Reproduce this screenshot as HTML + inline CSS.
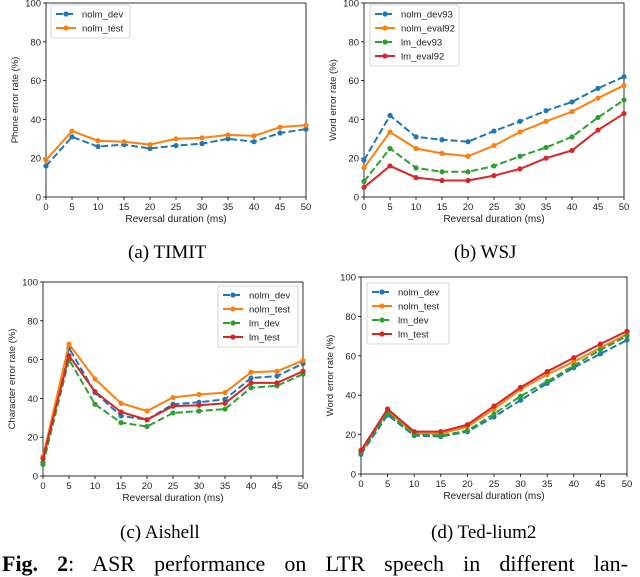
<!DOCTYPE html>
<html><head><meta charset="utf-8"><style>
body{margin:0;background:#fff;width:640px;height:572px;overflow:hidden;position:relative;font-family:"Liberation Sans",sans-serif}
svg{position:absolute;left:0;top:0}
.cap{position:absolute;font-family:"Liberation Serif",serif;font-size:19px;color:#000;white-space:nowrap}
.fig{position:absolute;left:2px;top:551px;width:626px;font-family:"Liberation Serif",serif;font-size:22px;color:#000;text-align:justify;text-align-last:justify;white-space:normal}
</style></head><body>
<svg id="chart" width="640" height="572"></svg>
<div class="cap" style="left:128px;top:242px">(a) TIMIT</div>
<div class="cap" style="left:454px;top:242px">(b) WSJ</div>
<div class="cap" style="left:120px;top:522px">(c) Aishell</div>
<div class="cap" style="left:431px;top:522px">(d) Ted-lium2</div>
<div class="fig"><b>Fig. 2</b>: ASR performance on LTR speech in different lan-</div>
<script>
const xCats=[0,5,10,15,20,25,30,35,40,45,50];
const yTicks=[0,20,40,60,80,100];
const timitNames=["nolm_dev","nolm_test"];
const timitDev=[16,31,26,27,25,26.5,27.5,30,28.5,33,35];
const timitTest=[19,34,29,28.5,27,30,30.5,32,31.5,36,37];
const wsjNames=["nolm_dev93","nolm_eval92","lm_dev93","lm_eval92"];
const wsjNolmDev=[19,42,31,29.5,28.5,34,39,44.5,49,56,62];
const wsjNolmEval=[15,33.5,25,22.5,21,26.5,33.5,39,44,51,57.5];
const wsjLmDev=[8,25,15,13,13,16,21,25.5,31,41,50];
const wsjLmEval=[5,16,10,8.5,8.5,11,14.5,20,24,34.5,43];
const aiNames=["nolm_dev","nolm_test","lm_dev","lm_test"];
const aiNolmDev=[7,66,43,31,29,37,38,39.5,50.5,51.5,58];
const aiNolmTest=[10,68,50,37.5,33.5,40.5,42,43,53.5,54,59.5];
const aiLmDev=[6,60,37,27.5,25.5,32.5,33.5,34.5,45.5,46.5,52.5];
const aiLmTest=[9,62,43.5,33,29,36,36.5,37.5,48,48,54];
const tedNames=["nolm_dev","nolm_test","lm_dev","lm_test"];
const tedNolmDev=[10,30,19.5,19,21.5,29,37.5,46,54,61,68];
const tedNolmTest=[11,32,20.5,20.5,24,33,43,50.5,57,64,71];
const tedLmDev=[11,31,20,19.5,22,30.5,39.5,47,55,63,70];
const tedLmTest=[12,33,21.5,21.5,25,34.5,44,52,59,66,72.5];

const NS="http://www.w3.org/2000/svg";
const svg=document.getElementById('chart');
const colors=["#1f77b4","#ff7f0e","#2ca02c","#d62728"];
function mk(tag,attrs,parent){const e=document.createElementNS(NS,tag);for(const k in attrs)e.setAttribute(k,attrs[k]);(parent||svg).appendChild(e);return e;}

function panel(id,box,ylabel,series,names,dashes,legend){
  const g=mk('g',{});
  
  
  const X=v=>box.l+(v-0)/(50-0)*(box.r-box.l);
  const Y=v=>box.b-(v/100)*(box.b-box.t);
  const frame=mk('rect',{x:box.l,y:box.t,width:box.r-box.l,height:box.b-box.t,fill:'none',stroke:'#000','stroke-width':0.8},g);
  
  
  xCats.forEach(v=>{
    mk('line',{x1:X(v),x2:X(v),y1:box.b,y2:box.b+3,stroke:'#000','stroke-width':0.8},g);
    const t=mk('text',{x:X(v),y:box.b+13,'font-size':9.5,'text-anchor':'middle',fill:'#222'},g);t.textContent=v;
    
    
  });
  yTicks.forEach(v=>{
    mk('line',{x1:box.l-3,x2:box.l,y1:Y(v),y2:Y(v),stroke:'#000','stroke-width':0.8},g);
    const t=mk('text',{x:box.l-5,y:Y(v)+3.5,'font-size':9.5,'text-anchor':'end',fill:'#222'},g);t.textContent=v;
    
    
  });
  const xl=mk('text',{x:(box.l+box.r)/2,y:box.b+25,'font-size':10,'text-anchor':'middle',fill:'#222'},g);xl.textContent='Reversal duration (ms)';
  
  
  const yx=box.l-28, yy=(box.t+box.b)/2;
  const yl=mk('text',{x:yx,y:yy,'font-size':9.5,'text-anchor':'middle',fill:'#222',transform:`rotate(-90 ${yx} ${yy})`},g);yl.textContent=ylabel;
  
  
  series.forEach((s,i)=>{
    const pts=s.map((v,j)=>X(xCats[j])+','+Y(v)).join(' ');
    const pl=mk('polyline',{points:pts,fill:'none',stroke:colors[i],'stroke-width':2,'stroke-dasharray':dashes[i]?'7,3':'none'},g);
    
    
    s.forEach((v,j)=>{
      const c=mk('circle',{cx:X(xCats[j]),cy:Y(v),r:2.6,fill:colors[i]},g);
      
      
    });
  });
  const lg=mk('g',{},g);
  
  
  mk('rect',{x:legend.x,y:legend.y,width:legend.w,height:names.length*14+5,fill:'#fff',stroke:'#ccc','stroke-width':0.8,rx:2},lg);
  names.forEach((n,i)=>{
    const cy=legend.y+9+i*14;
    mk('line',{x1:legend.x+5,x2:legend.x+25,y1:cy,y2:cy,stroke:colors[i],'stroke-width':2,'stroke-dasharray':dashes[i]?'7,3':'none'},lg);
    mk('circle',{cx:legend.x+15,cy:cy,r:2.6,fill:colors[i]},lg);
    const t=mk('text',{x:legend.x+31,y:cy+3.5,'font-size':9.5,fill:'#222'},lg);t.textContent=n;
    
    
  });
}
panel('chart-timit',{l:46,r:306,t:3,b:197},'Phone error rate (%)',[timitDev,timitTest],timitNames,[true,false],{x:51,y:5,w:79});
panel('chart-wsj',{l:364,r:624,t:3,b:197},'Word error rate (%)',[wsjNolmDev,wsjNolmEval,wsjLmDev,wsjLmEval],wsjNames,[true,false,true,false],{x:370,y:5,w:89});
panel('chart-aishell',{l:43,r:303,t:282,b:476},'Character error rate (%)',[aiNolmDev,aiNolmTest,aiLmDev,aiLmTest],aiNames,[true,false,true,false],{x:218,y:286,w:80});
panel('chart-tedlium',{l:361,r:627,t:277,b:474},'Word error rate (%)',[tedNolmDev,tedNolmTest,tedLmDev,tedLmTest],tedNames,[true,false,true,false],{x:367,y:283,w:82});
</script>
</body></html>
